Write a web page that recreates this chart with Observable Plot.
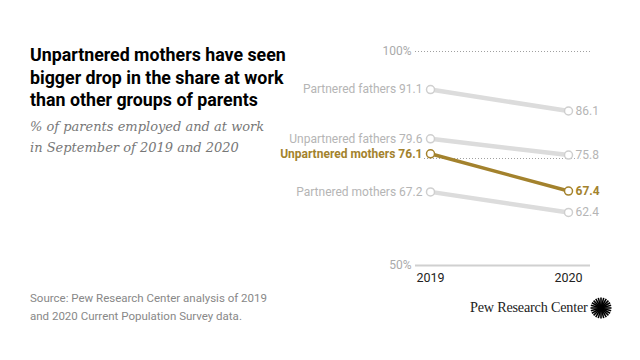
<!DOCTYPE html>
<html>
<head>
<meta charset="utf-8">
<script src="https://cdn.jsdelivr.net/npm/d3@7"></script>
<script src="https://cdn.jsdelivr.net/npm/@observablehq/plot@0.6"></script>
<style>
  html, body { margin: 0; padding: 0; background: #fff; }
  #wrap { position: relative; width: 640px; height: 360px; overflow: hidden; background: #fff; }
  #chart { position: absolute; left: 0; top: 0; }
  #title { position: absolute; left: 30px; top: 44px; width: 270px; font-family: Roboto, "Liberation Sans", sans-serif; font-weight: 700; font-size: 17.8px; line-height: 22.5px; color: #000; }
  #subtitle { position: absolute; left: 30px; top: 116px; width: 270px; font-family: "DejaVu Serif", serif; font-style: italic; font-size: 13px; line-height: 21px; color: #777; }
  #source { position: absolute; left: 30px; top: 289px; font-family: Roboto, "Liberation Sans", sans-serif; font-size: 11.5px; line-height: 18px; color: #888; }
  #logo { position: absolute; left: 470px; top: 299px; font-family: "Liberation Serif", serif; font-size: 14.2px; color: #222; letter-spacing: -0.2px; }
  #sun { position: absolute; left: 590px; top: 297px; }
</style>
</head>
<body>
<div id="wrap">
  <div id="chart"></div>
  <div id="title">Unpartnered mothers have seen bigger drop in the share at work than other groups of parents</div>
  <div id="subtitle">% of parents employed and at work<br>in September of 2019 and 2020</div>
  <div id="source">Source: Pew Research Center analysis of 2019<br>and 2020 Current Population Survey data.</div>
  <div id="logo">Pew Research Center</div>
  <svg id="sun" width="22" height="22" viewBox="-11 -11 22 22"></svg>
</div>
<script>
const groups = ["Partnered fathers", "Unpartnered fathers", "Unpartnered mothers", "Partnered mothers"];
const years = [2019, 2020];
const values2019 = [91.1, 79.6, 76.1, 67.2];
const values2020 = [86.1, 75.8, 67.4, 62.4];
const highlight = "Unpartnered mothers";
const yTickValues = [50, 100];
const gridValues = [75, 100];

const gold = "#a3822d";
const grayLine = "#dcdcdc";
const grayText = "#b5b5b5";

const rows = [];
groups.forEach((g, i) => {
  rows.push({group: g, year: years[0], value: values2019[i]});
  rows.push({group: g, year: years[1], value: values2020[i]});
});
const isHi = d => d.group === highlight;
const other = rows.filter(d => !isHi(d));
const hi = rows.filter(isHi);
const halo = {stroke: "white", strokeWidth: 4, paintOrder: "stroke"};

const chart = Plot.plot({
  width: 640,
  height: 360,
  marginLeft: 415,
  marginRight: 50,
  marginTop: 51,
  marginBottom: 95,
  style: {fontFamily: "Roboto, 'Liberation Sans', sans-serif", background: "transparent"},
  x: {type: "linear", domain: years, insetLeft: 15, insetRight: 22, axis: null},
  y: {domain: [50, 100], axis: null},
  marks: [
    Plot.ruleY(gridValues, {stroke: "#a0a0a0", strokeWidth: 1, strokeDasharray: "1,2"}),
    Plot.ruleY([50], {stroke: "#d0d0d0", strokeWidth: 2}),
    Plot.text(yTickValues, {frameAnchor: "left", y: d => d, text: d => d + "%", textAnchor: "end", dx: -4, fill: "#aaa", fontSize: 12}),
    Plot.text(years, {x: d => d, frameAnchor: "bottom", text: d => String(d), dy: 16, fill: "#222", fontSize: 12.5}),
    Plot.line(other, {x: "year", y: "value", z: "group", stroke: grayLine, strokeWidth: 4.5}),
    Plot.line(hi, {x: "year", y: "value", z: "group", stroke: gold, strokeWidth: 3.5}),
    Plot.text(other.filter(d => d.year === years[0]), {x: "year", y: "value", text: d => `${d.group} ${d.value.toFixed(1)}`, textAnchor: "end", dx: -8, fill: grayText, fontSize: 12, ...halo}),
    Plot.text(other.filter(d => d.year === years[1]), {x: "year", y: "value", text: d => d.value.toFixed(1), textAnchor: "start", dx: 7, fill: grayText, fontSize: 12, ...halo}),
    Plot.text(hi.filter(d => d.year === years[0]), {x: "year", y: "value", text: d => `${d.group} ${d.value.toFixed(1)}`, textAnchor: "end", dx: -8, fill: gold, fontSize: 12, fontWeight: "bold", ...halo}),
    Plot.text(hi.filter(d => d.year === years[1]), {x: "year", y: "value", text: d => d.value.toFixed(1), textAnchor: "start", dx: 7, fill: gold, fontSize: 12, fontWeight: "bold", ...halo}),
    Plot.dot(other, {x: "year", y: "value", r: 4, fill: "white", stroke: "#cfcfcf", strokeWidth: 1.5}),
    Plot.dot(hi, {x: "year", y: "value", r: 4, fill: "white", stroke: gold, strokeWidth: 1.5})
  ]
});
document.getElementById("chart").appendChild(chart);

// Pew sunburst logo
const sun = d3.select("#sun");
const n = 24;
for (let i = 0; i < n; i++) {
  const a = (i / n) * 2 * Math.PI;
  sun.append("line")
    .attr("x1", Math.cos(a) * 2).attr("y1", Math.sin(a) * 2)
    .attr("x2", Math.cos(a) * 10.5).attr("y2", Math.sin(a) * 10.5)
    .attr("stroke", "#000").attr("stroke-width", 1.6);
}
sun.append("circle").attr("r", 3).attr("fill", "#000");
</script>
</body>
</html>
